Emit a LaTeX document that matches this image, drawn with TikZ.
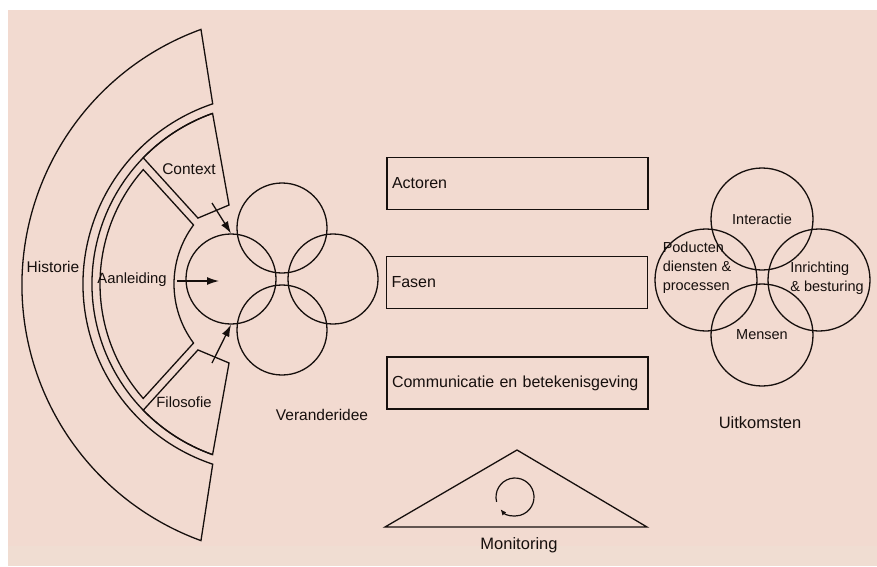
\documentclass[tikz,border=0pt]{standalone}
\usepackage{fontspec}
\setmainfont{Liberation Sans}
\usetikzlibrary{arrows.meta,calc}
\definecolor{bg}{RGB}{242,218,208}
\definecolor{bglow}{RGB}{240,221,210}
\definecolor{ink}{RGB}{22,15,13}

\begin{document}
\begin{tikzpicture}[x=1pt,y=-1pt,line width=1.3pt,color=ink,
  every node/.style={inner sep=0pt,font=\fontsize{15.5}{18}\selectfont},
  ring/.style={circle,draw,minimum size=90pt},
  ringbig/.style={circle,draw,minimum size=102pt,font=\fontsize{14.5}{19}\selectfont},
  balk/.style={draw,minimum width=261pt,minimum height=52pt,text width=251pt,align=left,inner sep=5pt,font=\fontsize{16}{19}\selectfont},
  pijl/.style={-{Latex[length=12pt,width=8pt]}}]
\def\rA{190}
\def\rB{181}
\def\rC{173}
\def\rD{99}

% Background
\fill[bg] (8,10) rectangle (877,566);
\fill[bglow] (8,546) rectangle (877,566);
\useasboundingbox (0,0) rectangle (877,566);

% Fan on the left
\coordinate (o) at (273,284);
\coordinate (hc) at (294,285);
\draw ($(hc)+(250:272)$) arc[start angle=250,end angle=110,radius=272]
  -- ($(o)+(108.5:\rA)$) arc[start angle=108.5,end angle=251.5,radius=\rA] -- cycle;
\draw ($(o)+(250.5:\rB)$) arc[start angle=250.5,end angle=109.5,radius=\rB];
\draw ($(o)+(221.3:99.9)$) -- ($(o)+(240.9:90.4)$) -- ($(o)+(250.5:\rB)$)
  arc[start angle=250.5,end angle=224.2,radius=\rB] -- cycle;
\draw ($(o)+(221.4:\rC)$) -- ($(o)+(216.6:\rD)$) arc[start angle=216.6,end angle=143.4,radius=\rD]
  -- ($(o)+(138.6:\rC)$) arc[start angle=138.6,end angle=221.4,radius=\rC] -- cycle;
\draw ($(o)+(138.7:99.9)$) -- ($(o)+(119.1:90.4)$) -- ($(o)+(109.5:\rB)$)
  arc[start angle=109.5,end angle=135.8,radius=\rB] -- cycle;

\node (historie) at (53,267) {Historie};
\node (context) at (189,169) {Context};
\node[font=\fontsize{14.8}{18}\selectfont] (aanleiding) at (132,280) {Aanleiding};
\node[font=\fontsize{14.8}{18}\selectfont] (filosofie) at (184,402) {Filosofie};

% Veranderidee
\node[ring] (vt) at (282,228) {};
\node[ring] (vl) at (231,279) {};
\node[ring] (vr) at (333,279) {};
\node[ring] (vb) at (282,330) {};
\node (veranderidee) at (322,415) {Veranderidee};

\coordinate (ctx-pijl) at (212,203);
\coordinate (aan-pijl) at (177,281);
\coordinate (aan-punt) at (219,281);
\coordinate (fil-pijl) at (212,363);
\draw[pijl] (ctx-pijl) -- (vl.north);
\draw[pijl] (aan-pijl) -- (aan-punt);
\draw[pijl] (fil-pijl) -- (vl.south);

% Bars
\node[balk] (actoren) at (517.5,183.5) {Actoren};
\node[balk] (fasen) at (517,282.5) {Fasen};
\node[balk] (communicatie) at (517.5,383) {Communicatie en betekenisgeving};

% Monitoring
\coordinate (mon-top) at (517,450);
\coordinate (mon-l) at (385,527);
\coordinate (mon-r) at (647,527);
\coordinate (mon-c) at (515,497);
\draw (mon-l) -- (mon-top) -- (mon-r) -- cycle;
\draw[line width=1.2pt,-{Latex[length=6pt,width=5pt]}] ($(mon-c)+(165:19)$) arc[start angle=165,end angle=500,radius=19];
\node[font=\fontsize{16.5}{19}\selectfont] (monitoring) at (519,545) {Monitoring};

% Uitkomsten
\node[ringbig] (ut) at (762,219) {Interactie};
\node[ringbig] (ul) at (706,280) {};
\node[ringbig] (ur) at (819,280) {};
\node[ringbig] (ub) at (762,335) {Mensen};
\node[align=left,font=\fontsize{14.5}{19}\selectfont] (producten) at (697,268) {Poducten\\diensten \&\\processen};
\node[align=left,font=\fontsize{14.5}{19}\selectfont] (inrichting) at (827,278) {Inrichting\\\& besturing};
\node[font=\fontsize{16.5}{19}\selectfont] (uitkomsten) at (760,423) {Uitkomsten};

\end{tikzpicture}
\end{document}
